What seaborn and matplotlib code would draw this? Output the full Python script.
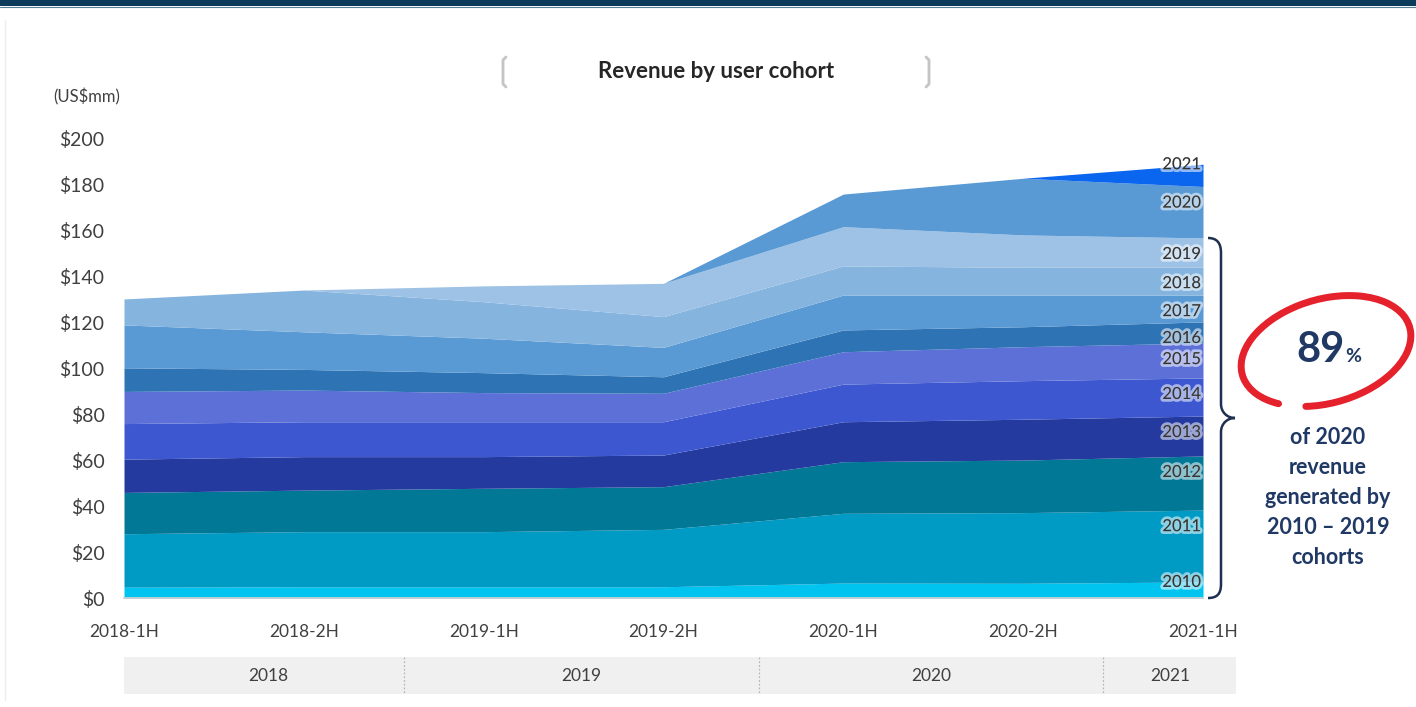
import numpy as np
import pandas as pd
import matplotlib
matplotlib.use("Agg")
import matplotlib.pyplot as plt
from matplotlib.path import Path
from matplotlib.patches import PathPatch, Rectangle, Arc
import matplotlib.patheffects as pe
import seaborn as sns

# ---- data (US$mm, revenue by user cohort per half-year) ----
periods = ["2018-1H", "2018-2H", "2019-1H", "2019-2H", "2020-1H", "2020-2H", "2021-1H"]
cohorts = ["2010", "2011", "2012", "2013", "2014", "2015",
           "2016", "2017", "2018", "2019", "2020", "2021"]

c2010 = [4.7, 4.9, 4.9, 4.9, 6.5, 6.4, 7.0]
c2011 = [23.3, 24.0, 24.0, 25.0, 30.4, 30.8, 31.3]
c2012 = [18.0, 18.1, 18.9, 18.6, 22.5, 22.9, 23.6]
c2013 = [14.5, 14.6, 13.8, 13.8, 17.4, 17.8, 17.4]
c2014 = [15.5, 15.2, 15.2, 14.5, 16.4, 16.8, 16.6]
c2015 = [14.0, 13.8, 12.7, 12.4, 14.1, 14.8, 15.2]
c2016 = [10.3, 9.0, 8.7, 7.2, 9.5, 8.7, 9.2]
c2017 = [18.7, 16.4, 15.0, 12.8, 15.2, 13.8, 11.7]
c2018 = [11.3, 18.2, 15.9, 13.4, 12.7, 12.1, 12.2]
c2019 = [0.0, 0.0, 6.9, 14.5, 17.1, 14.1, 12.7]
c2020 = [0.0, 0.0, 0.0, 0.0, 14.2, 24.7, 22.4]
c2021 = [0.0, 0.0, 0.0, 0.0, 0.0, 0.0, 9.7]

yticks = [0, 20, 40, 60, 80, 100, 120, 140, 160, 180, 200]
years = ["2018", "2019", "2020", "2021"]
share_text = "89"

df = pd.DataFrame(
    [c2010, c2011, c2012, c2013, c2014, c2015, c2016, c2017, c2018, c2019, c2020, c2021],
    index=cohorts, columns=periods)

palette = ["#00c4f0", "#009bc5", "#007896", "#243a9f", "#3c57cf", "#5d70d8",
           "#2e74b5", "#5a9ad4", "#85b4df", "#9dc2e5", "#5a9ad4", "#0a66ee"]

sns.set_theme(style="white")
plt.rcParams["font.family"] = ["Lato", "DejaVu Sans"]

W, H = 1416, 707
fig = plt.figure(figsize=(W / 100, H / 100), dpi=100)
fig.patch.set_facecolor("white")

# main stacked area axes
ax = fig.add_axes([124 / W, 1 - 598 / H, (1203 - 124) / W, (598 - 139) / H])
x = np.arange(len(periods))
ax.stackplot(x, df.values, colors=palette, linewidth=0)
ax.set_xlim(0, len(periods) - 1)
ax.set_ylim(0, 200)
ax.set_yticks(yticks)
ax.set_yticklabels([f"${v}" for v in yticks], fontsize=14, color="#404040")
ax.set_xticks(x)
ax.set_xticklabels(periods, fontsize=12.5, color="#404040")
ax.tick_params(axis="y", length=0, pad=14)
ax.tick_params(axis="x", length=5, color="#d0d0d0", width=1, pad=14, direction="out")
sns.despine(ax=ax, left=True, right=True, top=True)
ax.spines["bottom"].set_color("#d0d0d0")
ax.set_facecolor("none")
ax.grid(False)

# cohort labels at the right edge
tops = df.cumsum().iloc[:, -1].values
for i, name in enumerate(cohorts):
    top = tops[i]
    y = max(top - 7, 7)
    if i == len(cohorts) - 1:
        y = top
    ax.text(len(periods) - 1 - 0.012, y, name, ha="right", va="center",
            fontsize=12, color="#333333",
            path_effects=[pe.withStroke(linewidth=4, foreground=(1, 1, 1, 0.55))])

# overlay in pixel coordinates for decorations
ov = fig.add_axes([0, 0, 1, 1], zorder=5)
ov.set_xlim(0, W)
ov.set_ylim(H, 0)
ov.axis("off")
ov.patch.set_alpha(0)

# top banner
ov.add_patch(Rectangle((0, 0), W, 6, color="#0c3b5b", lw=0))
ov.plot([0, W], [6.5, 6.5], color="#5a7f99", lw=0.8)
ov.plot([5, 5], [20, 700], color="#eeeeee", lw=1)

# title with brackets
ov.text(716, 71, "Revenue by user cohort", ha="center", va="center",
        fontsize=16, fontweight="bold", color="#262626")
for bx, d in [(503, 1), (929, -1)]:
    ov.plot([bx + 3 * d, bx, bx, bx + 3 * d], [57, 60, 84, 87],
            color="#c4c4c4", lw=2, solid_capstyle="round")
ov.text(53, 97, "(US$mm)", ha="left", va="center", fontsize=12, color="#404040")

# year band under the axis
ov.add_patch(Rectangle((124, 657), 1236 - 124, 37, color="#f0f0f0", lw=0))
for dx in [404, 759, 1103]:
    ov.plot([dx, dx], [657, 694], color="#b8b8b8", lw=0.9, ls=(0, (1.5, 1.5)))
for cx, yr in zip([268, 581, 931, 1170], years):
    ov.text(cx, 676, yr, ha="center", va="center", fontsize=12.5, color="#404040")

# curly brace for the 2010-2019 cohorts
verts = [(1208, 238), (1217, 238), (1221, 243), (1221, 253),
         (1221, 404),
         (1221, 412), (1227, 418), (1235, 418),
         (1227, 418), (1221, 424), (1221, 432),
         (1221, 584),
         (1221, 594), (1217, 598), (1208, 598)]
codes = [Path.MOVETO, Path.CURVE4, Path.CURVE4, Path.CURVE4,
         Path.LINETO,
         Path.CURVE4, Path.CURVE4, Path.CURVE4,
         Path.CURVE4, Path.CURVE4, Path.CURVE4,
         Path.LINETO,
         Path.CURVE4, Path.CURVE4, Path.CURVE4]
ov.add_patch(PathPatch(Path(verts, codes), fill=False, ec="#1f2f4f", lw=1.8))

# highlighted share, circled by a hand-drawn style loop
ov.add_patch(Arc((1326, 351), 174, 104, angle=-16, theta1=148, theta2=126,
                 color="#e5212b", lw=5, capstyle="round"))
ov.text(1345, 350, share_text, ha="right", va="center", fontsize=30,
        fontweight="bold", color="#1f3864")
ov.text(1345, 356, "%", ha="left", va="center", fontsize=14,
        fontweight="bold", color="#1f3864")
for k, line in enumerate(["of 2020", "revenue", "generated by",
                          "2010 \u2013 2019", "cohorts"]):
    ov.text(1328, 437 + 30 * k, line, ha="center", va="center", fontsize=15.5,
            fontweight="bold", color="#1f3864")

fig.savefig("out.png", dpi=100)
